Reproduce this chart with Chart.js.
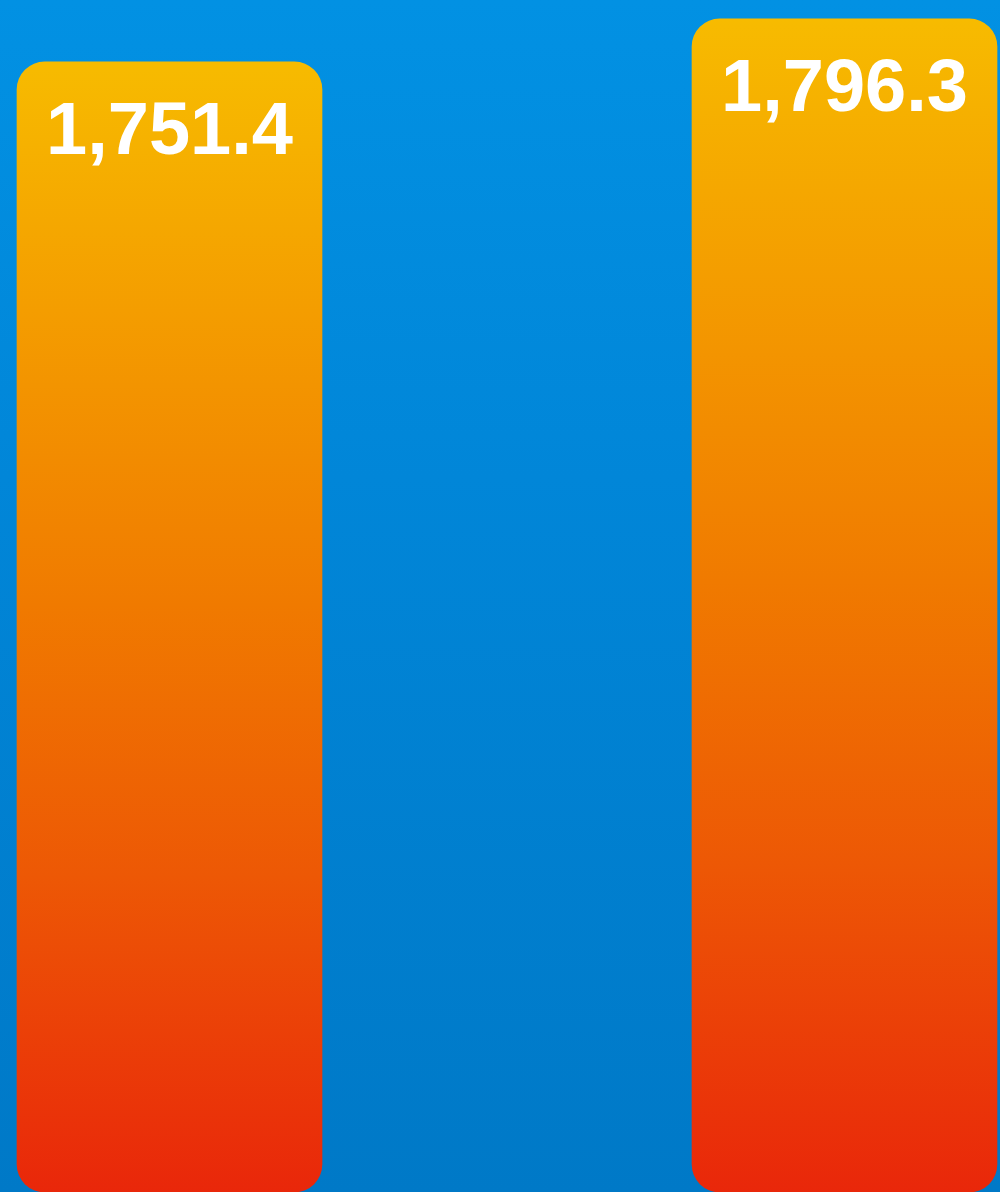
<!DOCTYPE html>
<html>
<head>
<meta charset="utf-8">
<style>
  html, body { margin: 0; padding: 0; }
  body {
    width: 1000px; height: 1192px; overflow: hidden; position: relative;
    background: linear-gradient(to bottom, #0291e3 0%, #0186d8 40%, #0079c7 100%);
  }
  /* the chart is wider than the window and cropped, like the reference */
  #wrap { position: absolute; left: -168px; top: 0; width: 1350px; height: 1192px; }
</style>
<script src="https://cdn.jsdelivr.net/npm/chart.js@4/dist/chart.umd.min.js"></script>
</head>
<body>
<div id="wrap"><canvas id="chart"></canvas></div>
<script>
(function () {
  'use strict';

  // ── Data ────────────────────────────────────────────────
  var categories = ['A', 'B'];
  var values = [1751.4, 1796.3];

  // visible value range (the bars are cropped at the bottom)
  var Y_MIN = 571.5;
  var Y_MAX = 1816;

  function barGradient(ctx) {
    var chart = ctx.chart;
    var area = chart.chartArea;
    if (!area || ctx.dataIndex == null) return '#f07800';
    var top = chart.scales.y.getPixelForValue(values[ctx.dataIndex]);
    var g = chart.ctx.createLinearGradient(0, top, 0, area.bottom);
    g.addColorStop(0, '#f7bb00');
    g.addColorStop(0.22, '#f49d00');
    g.addColorStop(0.48, '#f07a00');
    g.addColorStop(0.72, '#ed5805');
    g.addColorStop(1, '#e9270a');
    return g;
  }

  // white value labels inside the top of each bar
  var valueLabels = {
    id: 'valueLabels',
    afterDatasetsDraw: function (chart) {
      var c = chart.ctx;
      var meta = chart.getDatasetMeta(0);
      c.save();
      c.fillStyle = '#ffffff';
      c.font = 'bold 74px "Liberation Sans", Arial, sans-serif';
      c.textAlign = 'center';
      c.textBaseline = 'middle';
      meta.data.forEach(function (bar, i) {
        var txt = values[i].toLocaleString('en-US', { minimumFractionDigits: 1, maximumFractionDigits: 1 });
        c.fillText(txt, bar.x, bar.y + 72);
      });
      c.restore();
    }
  };

  new Chart(document.getElementById('chart'), {
    type: 'bar',
    data: {
      labels: categories,
      datasets: [{
        data: values,
        base: Y_MIN,
        backgroundColor: barGradient,
        borderWidth: 0,
        borderRadius: 28,
        borderSkipped: false,
        barThickness: 305
      }]
    },
    options: {
      responsive: true,
      maintainAspectRatio: false,
      animation: false,
      layout: { padding: 0 },
      plugins: { legend: { display: false }, tooltip: { enabled: false } },
      scales: {
        x: { display: false, grid: { display: false } },
        y: { display: false, min: Y_MIN, max: Y_MAX, grid: { display: false } }
      }
    },
    plugins: [valueLabels]
  });
})();
</script>
</body>
</html>
